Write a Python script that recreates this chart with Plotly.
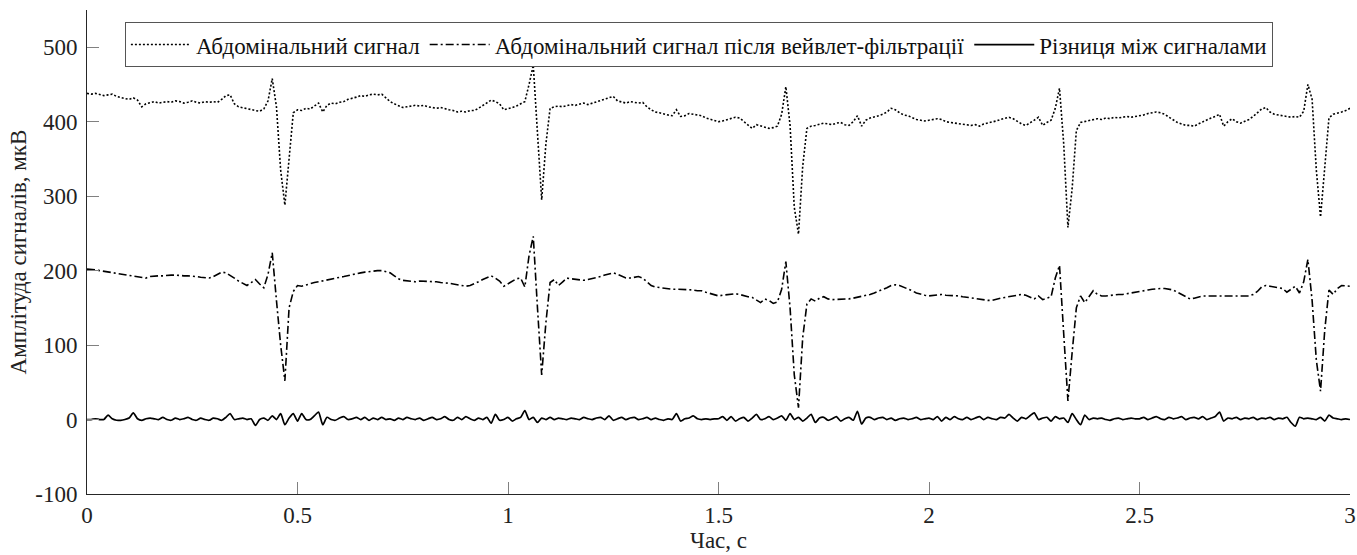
import plotly.graph_objects as go

# time base: 0 .. 3 s, step 0.01 s
t = [round(i * 0.01, 2) for i in range(301)]

abdominal = [
    438, 437, 438, 436, 435, 436, 437, 434, 432, 431,
    430, 432, 429, 420, 424, 426, 427, 425, 426, 427,
    426, 428, 427, 425, 426, 428, 426, 425, 427, 426,
    427, 426, 430, 435, 436, 424, 420, 419, 418, 417,
    415, 414, 417, 428, 458, 420, 335, 288, 350, 412,
    416, 415, 418, 417, 421, 425, 413, 422, 425, 424,
    426, 427, 430, 431, 433, 435, 434, 436, 437, 436,
    437, 432, 427, 424, 421, 419, 420, 421, 422, 421,
    422, 420, 419, 418, 419, 417, 416, 415, 413, 414,
    413, 415, 415, 418, 422, 426, 429, 427, 424, 416,
    417, 419, 421, 424, 427, 450, 476, 385, 295, 370,
    418, 420, 421, 420, 422, 423, 422, 424, 425, 423,
    425, 427, 428, 430, 432, 434, 428, 426, 425, 427,
    426, 425, 426, 420, 416, 413, 412, 410, 409, 408,
    416, 407, 408, 411, 410, 409, 408, 405, 403, 401,
    400, 401, 403, 405, 406, 405, 400, 396, 391, 396,
    394, 392, 391, 392, 394, 410, 447, 395, 285, 249,
    340, 391, 394, 395, 396, 398, 397, 396, 398, 399,
    396, 395, 400, 408, 394, 402, 405, 406, 408, 410,
    413, 418, 416, 412, 409, 408, 405, 403, 402, 401,
    402, 403, 404, 403, 400, 399, 398, 397, 396, 395,
    395, 396, 394, 397, 398, 399, 401, 403, 405, 406,
    404, 400, 397, 395, 398, 402, 406, 395, 399, 402,
    418, 445, 370, 258, 310, 388, 399, 400, 402, 403,
    404, 403, 405, 404, 406, 405, 406, 407, 406, 407,
    407, 409, 411, 412, 413, 412, 410, 406, 402, 399,
    397, 395, 395, 394, 397, 400, 402, 405, 407, 410,
    394, 400, 404, 400, 398, 400, 403, 407, 412, 417,
    419, 413, 410, 409, 408, 407, 406, 407, 406, 414,
    450, 430, 335, 272, 340, 405, 410, 411, 413, 415,
    418,
]

filtered = [
    202, 202, 201, 200, 199, 198, 197, 196, 195, 194,
    193, 192, 191, 190, 190, 192, 193, 193, 193, 194,
    194, 194, 193, 193, 193, 193, 192, 191, 191, 190,
    192, 195, 198, 197, 194, 190, 186, 183, 180, 184,
    188, 182, 177, 195, 224, 160, 100, 52, 150, 172,
    180, 179, 181, 183, 184, 185, 186, 187, 188, 189,
    191, 192, 193, 195, 196, 197, 198, 199, 200, 200,
    200, 199, 197, 193, 189, 187, 186, 185, 185, 186,
    186, 186, 185, 185, 184, 184, 183, 182, 181, 180,
    179, 180, 182, 185, 188, 191, 193, 190, 186, 179,
    182, 186, 189, 190, 178, 220, 246, 150, 60, 130,
    184, 188, 180, 185, 190, 189, 188, 187, 187, 188,
    189, 190, 192, 194, 196, 197, 195, 193, 190, 190,
    191, 192, 190, 185, 180, 178, 177, 176, 176, 175,
    175, 175, 175, 174, 174, 173, 173, 171, 169, 167,
    166, 167, 168, 168, 169, 168, 166, 165, 164, 160,
    157, 162, 160, 156, 158, 175, 212, 150, 60, 16,
    110, 155, 162, 159, 163, 165, 162, 161, 161, 161,
    161, 162, 163, 164, 166, 167, 168, 170, 172, 175,
    177, 180, 181, 180, 178, 176, 173, 170, 168, 167,
    166, 167, 168, 168, 167, 167, 166, 166, 165, 164,
    163, 162, 161, 161, 160, 160, 162, 163, 164, 165,
    166, 167, 168, 167, 164, 162, 166, 161, 163, 165,
    190, 207, 115, 25, 90, 150, 166, 157, 165, 173,
    168, 166, 166, 167, 167, 168, 168, 169, 169, 170,
    171, 173, 174, 175, 176, 176, 176, 175, 174, 171,
    168, 165, 162, 163, 165, 166, 166, 166, 167, 167,
    167, 167, 167, 167, 167, 166, 166, 168, 172, 178,
    180, 179, 178, 177, 176, 171, 175, 179, 170, 185,
    215, 160, 80, 38, 120, 174, 168, 176, 180, 179,
    179,
]

difference = [
    0, 0, 1, 0, 0, 6, 1, -1, -1, 0,
    2, 9, 1, -1, 1, 2, 1, 0, 3, 0,
    -1, 2, 0, 1, 3, 0, -1, 2, 0, -1,
    2, 1, -1, 3, 8, 0, 1, 2, 0, 1,
    -8, 0, 2, -1, 5, 0, 8, -7, 2, 8,
    -2, 8, 0, 0, 5, 10, -7, 3, 0, -1,
    2, 4, 0, 1, 3, 0, 3, -1, 2, 0,
    3, 0, 1, -1, 2, 0, 3, 1, 0, 2,
    -1, 1, 3, 0, 1, 4, 0, -1, 3, 0,
    4, 1, -1, 2, 0, 3, -5, 7, -1, 0,
    3, -2, 1, 3, 12, 0, 3, -4, 2, 0,
    3, 0, 2, 1, 0, 2, 1, 0, 3, 1,
    0, 2, 3, 0, 5, -1, 1, 3, 0, 2,
    3, 0, 1, 3, 0, 2, 0, -1, 1, 0,
    8, -2, 1, 2, 5, 1, 0, 1, 0, 1,
    1, 4, -1, 4, -2, 1, 3, -2, 2, 7,
    0, 1, 4, 0, 2, 5, -1, 8, 0, 3,
    -2, 2, 7, -4, 2, 3, -1, 1, 4, -2,
    1, 3, -1, 11, -6, 2, 3, 0, 2, 3,
    0, 2, -1, 1, 2, 0, 1, 3, 0, 1,
    2, 0, 4, -2, 3, 0, 4, 1, 0, 3,
    0, 2, 4, 0, 3, 1, 0, 3, 2, 7,
    2, -2, 3, 1, 5, 9, 0, 2, 3, -2,
    4, 1, 2, -4, 8, 0, -7, 6, 0, 2,
    1, 2, 0, -1, 1, 2, 0, 1, 2, 1,
    1, 3, 0, 2, 4, 1, 0, 3, 1, 2,
    4, 0, 2, 3, 1, 4, 0, 2, 4, 10,
    -2, 2, 1, 3, 0, 2, 1, 3, 0, 2,
    1, 3, 0, 2, 1, 3, -4, -9, 3, 1,
    2, 1, 0, 3, -2, 6, 2, 1, 0, 1,
    0,
]

names = [
    "Абдомінальний сигнал",
    "Абдомінальний сигнал після вейвлет-фільтрації",
    "Різниця між сигналами",
]

x_ticks = [0, 0.5, 1, 1.5, 2, 2.5, 3]
x_ticktext = ["0", "0.5", "1", "1.5", "2", "2.5", "3"]
y_ticks = [-100, 0, 100, 200, 300, 400, 500]
y_ticktext = ["-100", "0", "100", "200", "300", "400", "500"]

FONT = "Liberation Serif"
FS = 23
TXT = "#222222"

fig = go.Figure()
fig.add_trace(go.Scatter(x=t, y=abdominal, mode="lines", name=names[0],
                         line=dict(color="black", width=1.6, dash="2px,2px")))
fig.add_trace(go.Scatter(x=t, y=filtered, mode="lines", name=names[1],
                         line=dict(color="black", width=1.6, dash="8px,3px,2px,3px")))
fig.add_trace(go.Scatter(x=t, y=difference, mode="lines", name=names[2],
                         line=dict(color="black", width=1.7, shape="spline", smoothing=0.6)))

fig.update_layout(
    width=1357, height=555,
    margin=dict(l=87, r=7, t=10, b=61, autoexpand=False),
    paper_bgcolor="white", plot_bgcolor="white",
    font=dict(family=FONT, size=FS, color=TXT),
    showlegend=True,
    legend=dict(orientation="h", x=0.03, y=0.975, xanchor="left", yanchor="top",
                bgcolor="white", bordercolor="#555555", borderwidth=1,
                font=dict(family=FONT, size=FS, color="#111111"),
                itemwidth=60, tracegroupgap=0),
)
fig.update_xaxes(
    range=[0, 3], tickvals=x_ticks, ticktext=x_ticktext,
    showline=True, linecolor="#262626", linewidth=1, mirror=False,
    ticks="inside", ticklen=12, tickcolor="#808080", tickwidth=1,
    showgrid=False, zeroline=False,
    tickfont=dict(family=FONT, size=FS, color=TXT),
    title=dict(text="Час, с", font=dict(family=FONT, size=FS, color=TXT), standoff=4),
    automargin=False,
)
fig.update_yaxes(
    range=[-100, 550], tickvals=y_ticks, ticktext=y_ticktext,
    showline=True, linecolor="#262626", linewidth=1, mirror=False,
    ticks="inside", ticklen=12, tickcolor="#808080", tickwidth=1,
    showgrid=False, zeroline=False, ticklabelstandoff=4,
    tickfont=dict(family=FONT, size=FS, color=TXT),
    title=dict(text="Амплітуда сигналів, мкВ", font=dict(family=FONT, size=FS, color=TXT), standoff=2),
    automargin=False,
)

fig.write_html("out.html")
